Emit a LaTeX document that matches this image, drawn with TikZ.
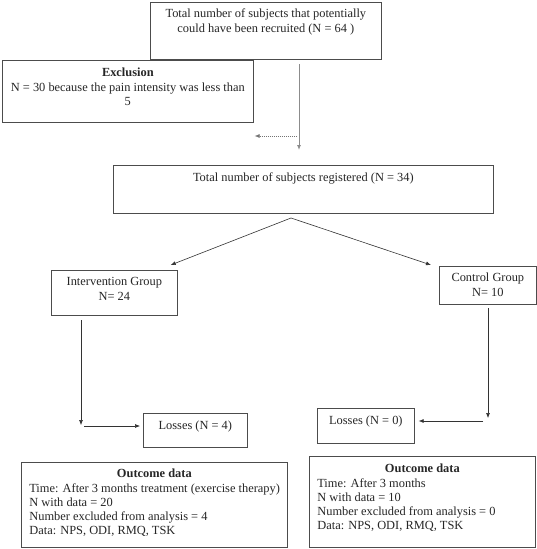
\documentclass[tikz,border=0pt]{standalone}
\usepackage{fontspec}
\setmainfont{Liberation Serif}
\usetikzlibrary{arrows.meta}
\newcommand{\bxc}[4]{\parbox[c][#2][t]{#1}{\centering\rule{0pt}{#3}#4}}
\newcommand{\bxo}[5]{\parbox[c][#2][t]{#1}{\centering\rule{0pt}{#3}\textbf{Outcome data}\par\raggedright\leftskip=#4\relax #5}}
\begin{document}
\begin{tikzpicture}[x=1pt,y=1pt,
  box/.style={draw=black!70, line width=0.7pt, inner sep=0pt, anchor=north west,
    font=\fontsize{12.4}{14.2}\selectfont, text=black!85},
  arr/.style={draw=black!80, line width=0.6pt, -{Latex[length=5pt,width=4pt]}},
]
\fill[white] (0,0) rectangle (537,-549);
\useasboundingbox (0,0) rectangle (537,-549);

\node[box] (b1) at (150,-2) {\bxc{231pt}{57pt}{15.5pt}{Total number of subjects that potentially\\could have been recruited (N = 64 )}};
\node[box] (ex) at (2,-60) {\bxc{251pt}{62pt}{16.5pt}{\textbf{Exclusion}\\N = 30 because the pain intensity was less than\\5}};
\node[box] (b2) at (113,-165) {\bxc{380pt}{48pt}{16.5pt}{Total number of subjects registered (N = 34)}};
\node[box] (ig) at (51,-270) {\bxc{126pt}{45pt}{15.5pt}{Intervention Group\\N= 24}};
\node[box] (cg) at (439,-266) {\bxc{97pt}{38pt}{15.5pt}{Control Group\\N= 10}};
\node[box] (l4) at (143,-413) {\bxc{104pt}{34pt}{16.5pt}{Losses (N = 4)}};
\node[box] (l0) at (317,-408) {\bxc{97pt}{35pt}{16.5pt}{Losses (N = 0)}};
\node[box] (o1) at (21,-462) {\bxo{266pt}{85pt}{15.5pt}{8pt}{Time: After 3 months treatment (exercise therapy)\\N with data = 20\\Number excluded from analysis = 4\\Data: NPS, ODI, RMQ, TSK}};
\node[box] (o2) at (309,-456) {\bxo{226pt}{91pt}{16.5pt}{8pt}{Time: After 3 months\\N with data = 10\\Number excluded from analysis = 0\\Data: NPS, ODI, RMQ, TSK}};

% connectors
\coordinate (v1s) at (299,-64);
\draw[arr, draw=black!45, line width=0.9pt, shorten >=15pt] (v1s) -- (v1s |- b2.north);
\coordinate (d1) at (297,-136);
\draw[arr, draw=black!55, dash pattern=on 1pt off 1pt] (d1) -- ([xshift=1pt]ex.east |- d1);
\coordinate (sp) at (291,-218);
\draw[arr] (sp) -- ([shift={(-7pt,5pt)}]ig.north east);
\draw[arr] (sp) -- ([shift={(-8pt,1pt)}]cg.north west);
\coordinate (lv) at (81,-320);
\coordinate (lve) at (81,-425);
\draw[arr] (lv) -- (lve);
\coordinate (lh) at (84,-426);
\draw[arr] (lh) -- ([xshift=-3pt]l4.west |- lh);
\coordinate (rv) at (488,-308);
\coordinate (rve) at (488,-418);
\draw[arr] (rv) -- (rve);
\coordinate (rh) at (483,-421);
\draw[arr] (rh) -- ([xshift=4pt]l0.east |- rh);
\end{tikzpicture}
\end{document}
